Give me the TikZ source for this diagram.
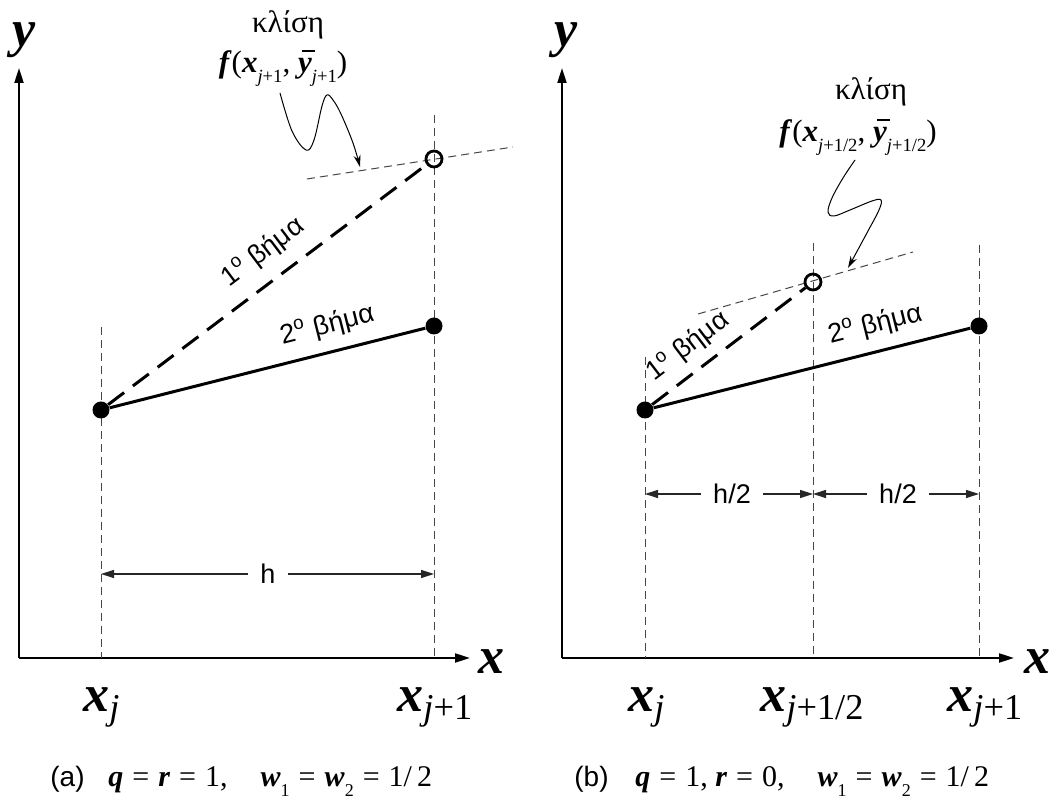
\documentclass[tikz,border=0pt]{standalone}
\usepackage{fontspec}
\setmainfont{Liberation Serif}
\setsansfont{Liberation Sans}
\usetikzlibrary{arrows.meta, positioning, calc}

\newcommand{\bi}[1]{\textbf{\textit{#1}}}
\newcommand{\ybar}{\rlap{\hspace{0.14em}\raisebox{0.66em}{\rule{0.42em}{0.06em}}}\bi{y}}
\newcommand{\lsub}[1]{\raisebox{-0.32em}{\scalebox{0.6}{#1}}}
\newcommand{\eqs}{\hspace{0.3em}=\hspace{0.3em}}

\begin{document}
\begin{tikzpicture}[
    x=0.5pt, y=-0.5pt,
    every node/.style={inner sep=0pt},
    axis/.style={line width=1pt, -{Triangle[length=7.5pt, width=4.5pt]}},
    guide/.style={gray!55!black, line width=0.5pt, dash pattern=on 4pt off 2.5pt},
    stepone/.style={line width=1.5pt, dash pattern=on 10pt off 5.5pt},
    steptwo/.style={line width=1.5pt},
    dimarrow/.style={gray!30!black, line width=0.6pt, -{Triangle[length=6.5pt, width=4pt]}},
    wiggle/.style={line width=0.5pt, -{Stealth[length=6pt, width=3.5pt]}},
    dot/.style={circle, fill=black, minimum size=8.5pt},
    hollow/.style={circle, draw=black, line width=1.4pt, minimum size=8pt},
    varlabel/.style={font=\fontsize{26}{30}\selectfont},
    ticklabel/.style={font=\fontsize{26}{30}\selectfont, anchor=base west},
    steplabel/.style={font=\sffamily\fontsize{13.5}{16}\selectfont, sloped},
    dimlabel/.style={font=\sffamily\fontsize{13.5}{16}\selectfont, inner xsep=6pt},
    slopetext/.style={font=\fontsize{15.5}{18}\selectfont},
    caption/.style={font=\fontsize{15}{18}\selectfont, anchor=base west},
    tag/.style={font=\sffamily\fontsize{14}{17}\selectfont, anchor=base west}
  ]

    \useasboundingbox (0,0) rectangle (1051,806);

    % ---------------- (a) left panel ----------------
    % axes
    \coordinate (Lo) at (19,658);
    \coordinate (Lytop) at (19,68);
    \coordinate (Lxend) at (470,658);
    \draw[axis] (Lo) -- (Lytop);
    \draw[axis] (Lo) -- (Lxend);
    \node[varlabel] (Ly) at (24,40) {\bi{y}};
    \node[varlabel] (Lx) at (491,662) {\bi{x}};

    % grid points x_j, x_{j+1}
    \coordinate (Lgj) at (101,327);
    \coordinate (Lgk) at (434,115);
    \foreach \g in {Lgj, Lgk} {
      \draw[guide] (\g) -- (\g |- Lo);
    }

    % tangent at the predicted point
    \coordinate (Lt1) at (307,179);
    \coordinate (Lt2) at (513,147);
    \draw[guide] (Lt1) -- (Lt2);

    % points and the two steps
    \node[dot] (La) at (101,410) {};
    \node[dot] (Lb) at (434,326) {};
    \node[hollow] (Lc) at (434,159) {};
    \draw[stepone] (La) -- node[steplabel, pos=0.54, above=7pt] (L1) {1\textsuperscript{o} βήμα} (Lc);
    \draw[steptwo] (La) -- node[steplabel, pos=0.71, above=6pt] (L2) {2\textsuperscript{o} βήμα} (Lb);

    % slope annotation
    \node[slopetext] (Lk) at (288,25) {κλίση};
    \node[slopetext] (Lf) at (283,68) {\bi{f}(\bi{x}\lsub{\textit{j}+1}, \ybar\lsub{\textit{j}+1})};
    \coordinate (Lw0) at (280,93);
    \coordinate (Lw1) at (360,167);
    \draw[wiggle] plot[smooth, tension=0.6] coordinates {(Lw0) (292,131) (306,150) (314,140) (322,106) (327,95) (333,100) (341,114) (353,143) (Lw1)};

    % step width h
    \node[dimlabel] (Lh) at (268,574) {h};
    \draw[dimarrow] (Lh.west) -- (Lh.west -| Lgj);
    \draw[dimarrow] (Lh.east) -- (Lh.east -| Lgk);

    % axis labels and caption
    \node[ticklabel] (Lxj) at (83,712) {\bi{x}\textsubscript{\textit{j}}};
    \node[ticklabel] (Lxk) at (397,712) {\bi{x}\textsubscript{\textit{j}+1}};
    \node[tag] (Ltag) at (50,787) {(a)};
    \node[caption] (Lcap) at (108,787) {\bi{q}\eqs\bi{r}\eqs1,\hspace{1.1em}\bi{w}\lsub{1}\eqs\bi{w}\lsub{2}\eqs1/\,2};

    % ---------------- (b) right panel ----------------
    % axes
    \coordinate (Ro) at (562,658);
    \coordinate (Rytop) at (562,68);
    \coordinate (Rxend) at (1014,658);
    \draw[axis] (Ro) -- (Rytop);
    \draw[axis] (Ro) -- (Rxend);
    \node[varlabel] (Ry) at (566,40) {\bi{y}};
    \node[varlabel] (Rx) at (1037,662) {\bi{x}};

    % grid points x_j, x_{j+1/2}, x_{j+1}
    \coordinate (Rgj) at (645,357);
    \coordinate (Rgm) at (813,243);
    \coordinate (Rgk) at (979,245);
    \foreach \g in {Rgj, Rgm, Rgk} {
      \draw[guide] (\g) -- (\g |- Ro);
    }

    % tangent at the midpoint
    \coordinate (Rt1) at (698,314);
    \coordinate (Rt2) at (913,252);
    \draw[guide] (Rt1) -- (Rt2);

    % points and the two steps
    \node[dot] (Ra) at (645,410) {};
    \node[dot] (Rb) at (979,326) {};
    \node[hollow] (Rc) at (813,282) {};
    \draw[stepone] (Ra) -- node[steplabel, pos=0.33, above=5pt] (R1) {1\textsuperscript{o} βήμα} (Rc);
    \draw[steptwo] (Ra) -- node[steplabel, pos=0.72, above=6pt] (R2) {2\textsuperscript{o} βήμα} (Rb);

    % slope annotation
    \node[slopetext] (Rk) at (871,92) {κλίση};
    \node[slopetext] (Rf) at (858,137) {\bi{f}(\bi{x}\lsub{\textit{j}+1/2}, \ybar\lsub{\textit{j}+1/2})};
    \coordinate (Rw0) at (855,160);
    \coordinate (Rw1) at (848,268);
    \draw[wiggle] plot[smooth, tension=0.6] coordinates {(Rw0) (843,178) (832,198) (828,212) (834,216) (850,210) (872,201) (881,200) (879,210) (868,231) (Rw1)};

    % half steps h/2
    \node[dimlabel] (Rh1) at (732,494) {h/2};
    \node[dimlabel] (Rh2) at (898,494) {h/2};
    \draw[dimarrow] (Rh1.west) -- (Rh1.west -| Rgj);
    \draw[dimarrow] (Rh1.east) -- (Rh1.east -| Rgm);
    \draw[dimarrow] (Rh2.west) -- (Rh2.west -| Rgm);
    \draw[dimarrow] (Rh2.east) -- (Rh2.east -| Rgk);

    % axis labels and caption
    \node[ticklabel] (Rxj) at (628,712) {\bi{x}\textsubscript{\textit{j}}};
    \node[ticklabel] (Rxm) at (760,712) {\bi{x}\textsubscript{\textit{j}+1/2}};
    \node[ticklabel] (Rxk) at (947,712) {\bi{x}\textsubscript{\textit{j}+1}};
    \node[tag] (Rtag) at (574,787) {(b)};
    \node[caption] (Rcap) at (635,787) {\bi{q}\eqs1, \bi{r}\eqs0,\hspace{1.1em}\bi{w}\lsub{1}\eqs\bi{w}\lsub{2}\eqs1/\,2};

\end{tikzpicture}
\end{document}
